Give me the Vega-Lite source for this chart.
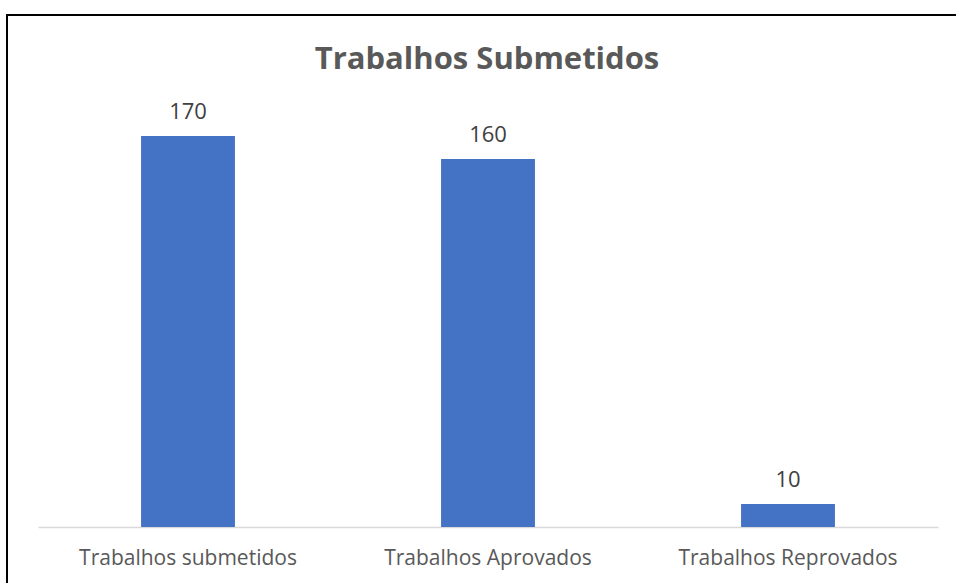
{
  "$schema": "https://vega.github.io/schema/vega-lite/v6.json",
  "autosize": "none",
  "width": 960,
  "height": 600,
  "padding": {"left": 7, "top": 15, "right": 0, "bottom": 0},
  "background": "white",
  "title": {"text": "Trabalhos Submetidos", "anchor": "middle", "frame": "group", "offset": -61, "fontSize": 31, "font": "Open Sans", "fontWeight": "bold", "color": "#595959"},
  "config": {"view": {"stroke": "#000000", "strokeWidth": 2}},
  "data": {"values": [
    {"categoria": "Trabalhos submetidos", "valor": 170},
    {"categoria": "Trabalhos Aprovados", "valor": 160},
    {"categoria": "Trabalhos Reprovados", "valor": 10}
  ]},
  "encoding": {
    "x": {"field": "categoria", "type": "nominal", "sort": null,
      "scale": {"range": [31, 931], "paddingInner": 0, "paddingOuter": 0},
      "axis": {"title": null, "domainColor": "#D9D9D9", "domainWidth": 1.5, "ticks": false, "tickSize": 0, "labelAngle": 0, "labelLimit": 0, "labelFont": "Open Sans", "labelFontSize": 21, "labelColor": "#595959", "labelPadding": 37, "labelBaseline": "alphabetic", "offset": -88, "grid": false}},
    "y": {"field": "valor", "type": "quantitative", "scale": {"domain": [0, 200], "range": [512, 52]}, "axis": null}
  },
  "layer": [
    {"mark": {"type": "bar", "color": "#4472C4", "width": {"band": 0.313}}},
    {"mark": {"type": "text", "dy": -17, "baseline": "alphabetic", "fontSize": 22, "font": "Open Sans", "color": "#404040"}, "encoding": {"text": {"field": "valor", "type": "quantitative"}}}
  ]
}
